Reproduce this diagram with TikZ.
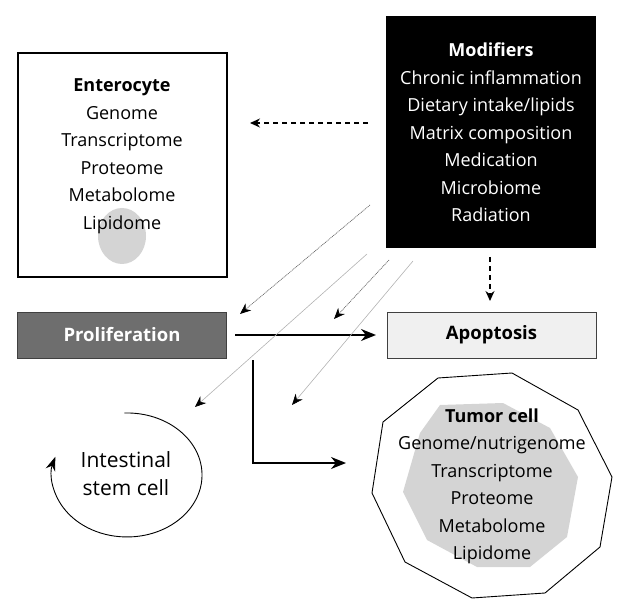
\documentclass[tikz,border=0pt]{standalone}
\usepackage{fontspec}
\setmainfont{Open Sans}
\usetikzlibrary{arrows.meta}
\begin{document}
\begin{tikzpicture}[x=1pt,y=1pt,
  txt/.style={align=center,font=\fontsize{18}{27.5}\selectfont,inner sep=0pt},
  boxA/.style={draw,line width=1.3pt,minimum width=209pt,minimum height=224pt,inner sep=0pt},
  bar/.style={draw=black!75,line width=0.8pt,minimum width=209pt,minimum height=46pt,inner sep=0pt,font=\fontsize{18.5}{20}\selectfont\bfseries},
  mainarrow/.style={line width=1.6pt,-{Stealth[length=15pt,width=12pt]}},
  dasharrow/.style={line width=1.3pt,dash pattern=on 5pt off 4pt,-{Stealth[length=10pt,width=9pt]}},
  fineA/.style={draw=black!60,line width=0.7pt,dash pattern=on 1pt off 0.8pt,-{Stealth[length=11pt,width=9pt,black]}},
  fineB/.style={draw=black!30,line width=0.6pt,-{Stealth[length=11pt,width=9pt,black]}}
]
\useasboundingbox (0,0) rectangle (630,-615);
% Enterocyte
\node[boxA] (ent) at (122.5,-165) {};
\fill[black!17] (122,-236) ellipse[x radius=24pt,y radius=28pt];
\node[txt] (enttext) at (122,-156) {\textbf{Enterocyte}\\Genome\\Transcriptome\\Proteome\\Metabolome\\Lipidome};
% Modifiers
\node[fill=black,minimum width=210pt,minimum height=232pt,inner sep=0pt] (mod) at (491,-132.5) {};
\node[txt,text=white] (modtext) at (491,-132.5) {\textbf{Modifiers}\\Chronic inflammation\\Dietary intake/lipids\\Matrix composition\\Medication\\Microbiome\\Radiation};
% bars
\node[bar,fill=black!57,text=white] (prol) at (122,-335) {Proliferation};
\node[bar,fill=black!6] (apo) at (491.5,-335) {Apoptosis};
% tumor cell
\draw[line width=0.9pt] (438,-378) -- (512,-373) -- (578,-410) -- (612,-477) -- (600,-547) -- (545,-593) -- (472,-598) -- (405,-562) -- (372,-493) -- (383,-422) -- cycle;
\fill[black!17] (440,-405) -- (503,-403) -- (550,-428) -- (578,-477) -- (567,-537) -- (530,-567) -- (477,-567) -- (427,-540) -- (403,-492) -- (420,-433) -- cycle;
\node[txt] (tum) at (492,-486.5) {\textbf{Tumor cell}\\Genome/nutrigenome\\Transcriptome\\Proteome\\Metabolome\\Lipidome};
% stem cell
\node[txt,font=\fontsize{21}{28}\selectfont] (stem) at (126,-474) {Intestinal\\stem cell};
\draw[line width=0.9pt,-{Stealth[length=14pt,width=10pt]}] (124.4,-413) arc[start angle=92,end angle=-197,x radius=75pt,y radius=62pt];
% coordinates
\coordinate (e1) at (368,-123);
\coordinate (e2) at (250,-123);
\coordinate (d1) at (490,-257);
\coordinate (d2) at (490,-301);
\coordinate (p1) at (235,-335);
\coordinate (p2) at (376,-335);
\coordinate (q1) at (253,-360);
\coordinate (q2) at (346,-463);
\coordinate (f1s) at (370,-205); \coordinate (f1e) at (240,-314);
\coordinate (f2s) at (367,-254); \coordinate (f2e) at (195,-407);
\coordinate (f3s) at (389,-260); \coordinate (f3e) at (334,-319);
\coordinate (f4s) at (413,-261); \coordinate (f4e) at (292,-405);
% arrows
\draw[dasharrow] (e1) -- (e2);
\draw[dasharrow] (d1) -- (d2);
\draw[mainarrow] (p1) -- (p2);
\draw[mainarrow] (q1) |- (q2);
\draw[fineA] (f1s) -- (f1e);
\draw[fineB] (f2s) -- (f2e);
\draw[fineA] (f3s) -- (f3e);
\draw[fineB] (f4s) -- (f4e);
\end{tikzpicture}
\end{document}
